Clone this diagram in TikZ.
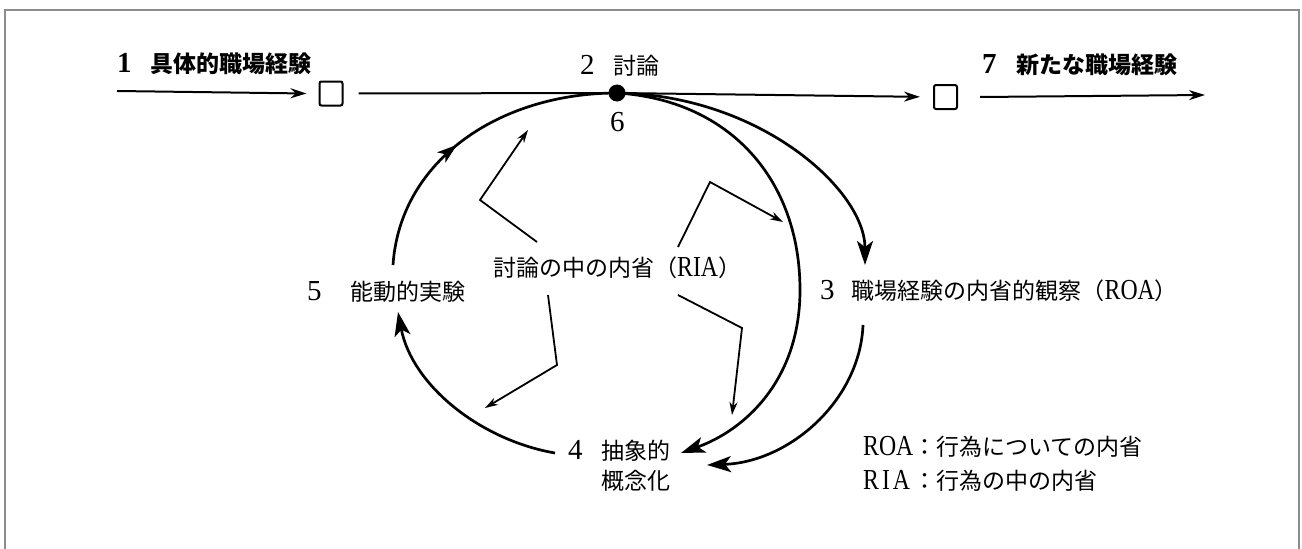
\documentclass[tikz,border=0pt]{standalone}
\usepackage{fontspec}
\setmainfont{Liberation Serif}
\newfontfamily\cjk{Noto Sans CJK JP}
\newfontfamily\latc[FakeStretch=0.82]{Liberation Serif}
\usetikzlibrary{arrows.meta,decorations.markings}
\newcommand\mydig[1]{{\fontsize{29}{29}\selectfont #1}}
\newcommand\mylat[1]{{\latc\fontsize{29}{29}\selectfont #1}}
\begin{document}
\begin{tikzpicture}[x=1pt,y=-1pt,
  lbl/.style={anchor=west,inner sep=0pt,font=\fontsize{23}{30}\selectfont},
  frame/.style={draw=black!45,line width=1.5pt},
  hline/.style={line width=2pt,-{Stealth[length=16pt,width=10pt]}},
  arc/.style={line width=2.7pt,-{Stealth[length=24pt,width=16pt,inset=6pt]}},
  arcplain/.style={line width=2.7pt},
  zig/.style={line width=1.8pt,-{Stealth[length=13pt,width=8pt]}},
  box/.style={draw,line width=2pt,rounded corners=2pt,minimum width=23pt,minimum height=24pt,inner sep=0pt}]
\useasboundingbox (0,0) rectangle (1302,549);
% frame
\draw[frame] (5,552) -- (5,10) -- (1299,10) -- (1299,552);

% nodes on the main line
\node[box] (sqL) at (331,93.5) {};
\node[circle,fill,inner sep=0pt,minimum size=17pt] (dot) at (617,93) {};
\node[box] (sqR) at (945.5,97) {};
\coordinate (start) at (117,91);
\coordinate (finish) at (1205,95);

% labels
\node[lbl] (t1) at (117,64) {\mydig{\bfseries 1}\hspace{19pt}{\cjk\bfseries 具体的職場経験}};
\node[lbl] (t2) at (580,66) {\mydig{2}\hspace{19pt}{\cjk 討論}};
\node[lbl] (t7) at (982,65) {\mydig{\bfseries 7}\hspace{20pt}{\cjk\bfseries 新たな職場経験}};
\node[lbl] (t6) at (610,122) {\mydig{6}};
\node[lbl] (t5) at (307,292) {\mydig{5}\hspace{29pt}{\cjk 能動的実験}};
\node[lbl] (tria) at (493,268) {{\cjk 討論の中の内省（}\mylat{RIA}{\cjk ）}};
\node[lbl] (t3) at (820,291) {\mydig{3}\hspace{17pt}{\cjk 職場経験の内省的観察（}\mylat{ROA}{\cjk ）}};
\node[lbl] (t4) at (568,468) {\begin{tabular}{@{}l@{\hspace{19pt}}l@{}}\mydig{4} & \cjk 抽象的\\ & \cjk 概念化\end{tabular}};
\node[lbl,font=\fontsize{23}{34}\selectfont] (leg) at (863,466) {\begin{tabular}{@{}l@{}l@{}}\mylat{ROA}&{\cjk ：行為についての内省}\\\mylat{R\hspace{3pt}I\hspace{3pt}A}&{\cjk ：行為の中の内省}\end{tabular}};

% main horizontal line
\draw[hline] (start) -- ([xshift=-12pt]sqL.west);
\draw[hline,shorten <=15pt,shorten >=13pt] (sqL.east) -- (dot.center) -- (sqR.west);
\draw[hline] ([xshift=22pt]sqR.east) -- (finish);

% arc anchor points
\coordinate (a5) at (393,265);
\coordinate (a3tip) at (865,265);
\coordinate (a3out) at (863,325);
\coordinate (a4in) at (681,453);
\coordinate (a4in2) at (707,465);
\coordinate (a4out) at (555,453);
\coordinate (a5in) at (398,312);

% cycle arcs
\draw[arcplain,postaction={decorate},decoration={markings,mark=at position 0.45 with {\arrow{Stealth[length=20pt,width=13pt,inset=5pt]}}}]
  (a5) .. controls (400,160) and (500,93) .. (dot.center);
\draw[arc] (dot.center) .. controls (760,95) and (865,190) .. (a3tip);
\draw[arc] (dot.center) .. controls (730,100) and (800,180) .. (800,290) .. controls (800,380) and (745,430) .. (a4in);
\draw[arc] (a3out) .. controls (860,400) and (790,462) .. (a4in2);
\draw[arc] (a4out) .. controls (480,440) and (412,385) .. (a5in);

% RIA zig arrows
\coordinate (z1s) at (537,242);
\coordinate (z1e) at (528,130);
\coordinate (z2s) at (678,247);
\coordinate (z2e) at (783,222);
\coordinate (z3s) at (548,295);
\coordinate (z3e) at (485,408);
\coordinate (z4s) at (678,295);
\coordinate (z4e) at (732,415);
\draw[zig] (z1s) -- (480,200) -- (z1e);
\draw[zig] (z2s) -- (710,182) -- (z2e);
\draw[zig] (z3s) -- (557,365) -- (z3e);
\draw[zig] (z4s) -- (742,328) -- (z4e);
\end{tikzpicture}
\end{document}
